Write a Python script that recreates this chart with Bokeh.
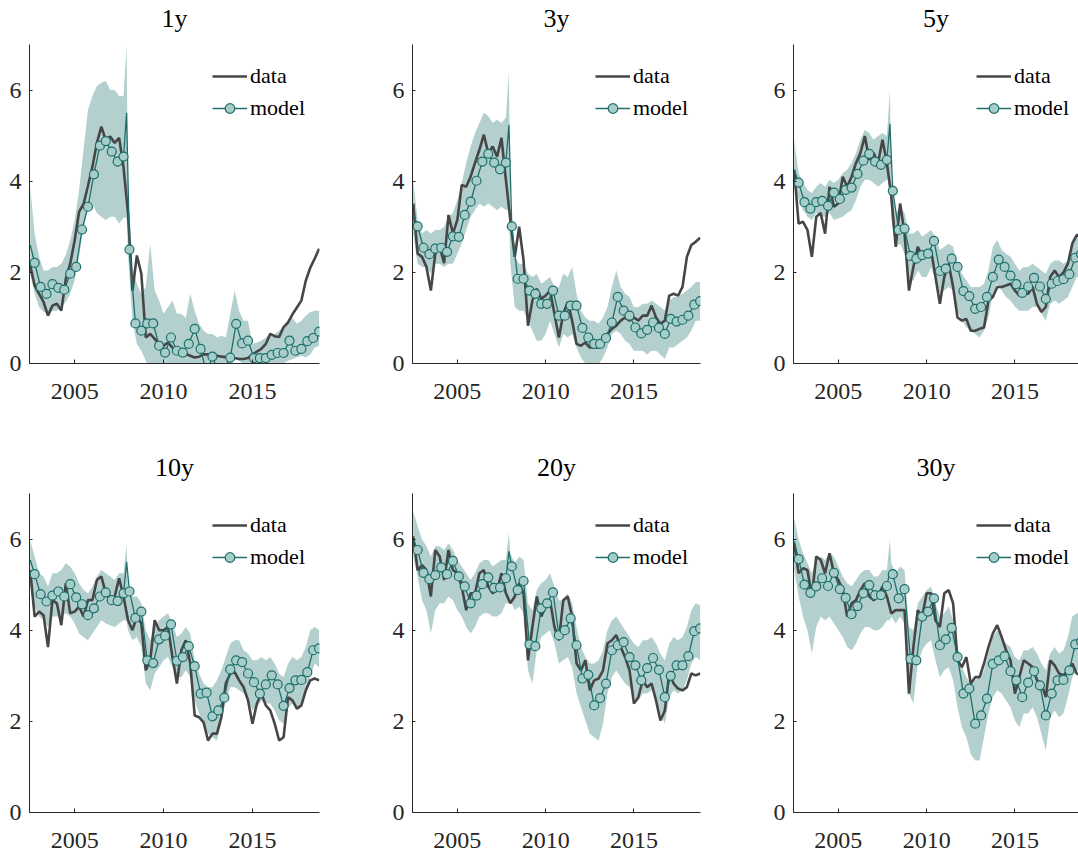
import numpy as np
from bokeh.plotting import figure
from bokeh.layouts import column, row
from bokeh.models import Range1d, FixedTicker, Legend, LegendItem, Title
from bokeh.embed import file_html
from bokeh.resources import INLINE

# ---------------- data ----------------
T_DATA = 2002.5 + 0.25 * np.arange(66)          # quarterly, 2002.5 .. 2018.75
T_MODEL = 2002.75 + np.arange(49) / 3.0         # every 4 months (markers)
T_START = 2002.5                                 # left end of model line
T_SPIKE = 2007.92                                # one-month spike

TITLES = ["1y", "3y", "5y", "10y", "20y", "30y"]
X_TICKS = [2005, 2010, 2015]
Y_TICKS = [0, 2, 4, 6]

DATA_1Y = [2.15, 1.71, 1.53, 1.35, 1.05, 1.27, 1.31, 1.16, 1.85, 2.19,
           2.7, 3.33, 3.5, 3.9, 4.32, 4.84, 5.2, 4.9, 4.98, 4.84, 4.95, 4.3,
           3.3, 1.6, 2.37, 1.97, 0.57, 0.65, 0.54, 0.43, 0.39, 0.46, 0.35, 0.24,
           0.26, 0.21, 0.17, 0.13, 0.15, 0.2, 0.2, 0.19, 0.17, 0.15, 0.14, 0.12,
           0.12, 0.1, 0.1, 0.12, 0.2, 0.26, 0.32, 0.43, 0.65, 0.6, 0.58, 0.8,
           0.9, 1.08, 1.23, 1.38, 1.82, 2.1, 2.3, 2.52]
LOW_1Y = [1.95, 1.53, 1.24, 1.13, 1.09, 1.16, 1.16, 1.24, 1.35, 1.53,
          1.82, 2.34, 3.0, 3.44, 3.5, 3.3, 3.22, 3.15, 3.22, 3.22, 3.07, 3.2,
          2.4, 0.94, 0.43, 0.28, 0.06, -0.1, -0.3, -0.2, -0.3, -0.1, -0.1, -0.2,
          -0.3, -0.2, -0.1, -0.2, -0.3, -0.4, -0.5, -0.4, -0.5, -0.4, -0.4, -0.3,
          0.2, 0.05, 0.0, -0.05, -0.2, -0.2, -0.2, -0.2, -0.1, -0.1, -0.05, 0.0,
          0.06, 0.1, 0.13, 0.17, 0.13, 0.2, 0.35, 0.39]
UP_1Y = [3.88, 2.85, 2.34, 2.04, 2.04, 2.12, 2.12, 2.19, 2.38, 2.7,
         3.15, 3.8, 4.7, 5.57, 5.87, 6.09, 6.16, 6.2, 6.0, 6.0, 5.87, 5.87,
         3.88, 2.12, 1.75, 1.53, 1.68, 2.63, 1.6, 1.38, 1.09, 1.24, 1.38, 1.09,
         1.09, 1.0, 1.53, 1.16, 0.87, 0.72, 0.65, 0.65, 0.57, 0.61, 0.57, 1.09,
         1.6, 1.16, 0.94, 0.94, 0.43, 0.46, 0.5, 0.57, 0.65, 0.65, 0.72, 0.8,
         0.94, 1.0, 0.87, 0.94, 1.05, 1.13, 1.16, 1.16]
MODEL_1Y = [2.21, 1.68, 1.53, 1.74, 1.66, 1.62, 1.97, 2.12, 2.94, 3.44,
            4.15, 4.78, 4.88, 4.65, 4.43, 4.54, 2.5, 0.88, 0.72, 0.88,
            0.88, 0.39, 0.24, 0.57, 0.28, 0.24, 0.43, 0.76, 0.32, -0.2,
            0.15, -0.2, -0.1, 0.13, 0.87, 0.44, 0.5, 0.12, 0.12, 0.12,
            0.19, 0.23, 0.23, 0.5, 0.28, 0.32, 0.49, 0.56, 0.7]

DATA_3Y = [3.51, 2.41, 2.34, 2.12, 1.6, 2.41, 2.56, 2.2, 3.26, 2.85,
           3.15, 3.92, 3.88, 4.1, 4.4, 4.69, 5.02, 4.62, 4.76, 4.54, 4.95, 4.03,
           3.15, 2.34, 3.0, 2.26, 0.83, 1.38, 1.64, 1.42, 1.49, 1.6, 1.09, 0.57,
           1.09, 1.35, 0.94, 0.43, 0.39, 0.46, 0.35, 0.35, 0.35, 0.43, 0.65, 0.76,
           0.83, 0.94, 1.01, 0.94, 1.01, 0.94, 1.05, 1.05, 1.27, 1.01, 0.87, 0.94,
           1.49, 1.53, 1.49, 1.68, 2.34, 2.6, 2.67, 2.76]
LOW_3Y = [2.85, 2.19, 2.12, 2.12, 1.97, 2.19, 2.19, 2.12, 2.19, 2.19,
          2.41, 2.63, 2.93, 3.22, 3.37, 3.51, 3.44, 3.51, 3.44, 3.37, 3.44, 3.37,
          2.19, 1.24, 1.16, 1.16, 0.94, 0.72, 0.5, 0.5, 0.65, 0.94, 0.65, 0.35,
          0.65, 0.57, 0.65, 0.35, 0.13, 0.0, -0.02, 0.02, -0.02, 0.13, 0.35, 0.65,
          0.72, 0.65, 0.5, 0.43, 0.28, 0.28, 0.28, 0.2, 0.28, 0.28, 0.2, 0.1,
          0.35, 0.35, 0.43, 0.5, 0.57, 0.72, 0.94, 0.94]
UP_3Y = [4.03, 3.15, 2.85, 2.93, 2.85, 2.93, 2.93, 3.0, 3.22, 3.3,
         3.59, 3.96, 4.4, 4.76, 5.06, 5.28, 5.5, 5.43, 5.28, 5.35, 5.28, 5.4,
         3.44, 2.34, 2.19, 2.19, 1.97, 1.9, 1.97, 1.75, 1.82, 1.9, 1.68, 1.68,
         1.97, 1.9, 2.12, 1.53, 1.16, 1.01, 0.94, 0.94, 0.87, 1.01, 1.24, 1.68,
         2.04, 1.68, 1.53, 1.46, 1.24, 1.24, 1.31, 1.31, 1.38, 1.31, 1.24, 1.16,
         1.38, 1.46, 1.46, 1.53, 1.6, 1.68, 1.79, 1.79]
MODEL_3Y = [3.01, 2.54, 2.4, 2.52, 2.54, 2.45, 2.79, 2.78, 3.26, 3.55,
            4.01, 4.43, 4.6, 4.41, 4.26, 4.41, 3.01, 1.86, 1.86, 1.6,
            1.53, 1.31, 1.31, 1.6, 1.05, 1.05, 1.27, 1.27, 0.78, 0.57,
            0.43, 0.43, 0.56, 0.9, 1.46, 1.16, 1.05, 0.79, 0.66, 0.74,
            0.9, 0.78, 0.65, 0.98, 0.92, 0.96, 1.05, 1.29, 1.37]

DATA_5Y = [4.25, 3.07, 3.11, 2.93, 2.34, 3.22, 3.3, 2.85, 3.88, 3.44,
           3.51, 4.1, 3.88, 4.1, 4.4, 4.62, 4.99, 4.47, 4.62, 4.4, 4.91, 4.4,
           3.66, 2.56, 3.51, 2.85, 1.6, 2.12, 2.56, 2.34, 2.41, 2.49, 1.9, 1.31,
           1.9, 2.19, 1.68, 1.01, 0.94, 0.98, 0.72, 0.72, 0.76, 0.79, 1.38, 1.46,
           1.68, 1.68, 1.71, 1.75, 1.6, 1.49, 1.53, 1.53, 1.68, 1.31, 1.13, 1.24,
           1.9, 2.04, 1.9, 2.0, 2.19, 2.63, 2.82, 2.78]
LOW_5Y = [3.88, 3.59, 3.37, 3.22, 3.15, 3.3, 3.22, 3.22, 3.3, 3.15,
          3.18, 3.22, 3.3, 3.37, 3.59, 3.88, 4.03, 4.03, 3.96, 3.88, 3.96, 4.03,
          3.15, 2.56, 2.63, 2.41, 1.82, 1.82, 2.04, 1.9, 1.9, 2.12, 1.82, 1.53,
          1.6, 1.68, 1.6, 1.16, 0.94, 0.79, 0.72, 0.65, 0.57, 0.72, 1.01, 1.53,
          1.75, 1.6, 1.46, 1.38, 1.24, 1.16, 1.16, 1.16, 1.24, 1.24, 1.09, 0.94,
          1.31, 1.38, 1.31, 1.38, 1.46, 1.68, 1.9, 1.9]
UP_5Y = [4.91, 4.18, 3.96, 3.81, 3.74, 3.88, 3.96, 3.88, 4.03, 3.96,
         4.03, 4.18, 4.25, 4.4, 4.62, 4.91, 5.13, 5.06, 4.91, 4.99, 5.06, 4.99,
         4.03, 3.3, 3.44, 3.3, 2.85, 2.85, 2.93, 2.78, 2.85, 2.93, 2.78, 2.49,
         2.56, 2.63, 2.56, 2.19, 1.97, 1.82, 1.68, 1.68, 1.68, 1.75, 2.04, 2.56,
         2.71, 2.49, 2.41, 2.34, 2.19, 2.04, 2.12, 2.12, 2.19, 2.12, 2.04, 1.97,
         2.19, 2.26, 2.26, 2.19, 2.26, 2.71, 2.85, 2.85]
MODEL_5Y = [3.97, 3.54, 3.4, 3.54, 3.57, 3.46, 3.75, 3.61, 3.81, 3.86,
            4.16, 4.45, 4.6, 4.43, 4.36, 4.47, 3.79, 2.93, 2.96, 2.36,
            2.3, 2.38, 2.41, 2.69, 2.03, 2.08, 2.3, 2.12, 1.59, 1.48,
            1.2, 1.24, 1.46, 1.9, 2.28, 2.12, 1.93, 1.74, 1.55, 1.69,
            1.88, 1.69, 1.42, 1.75, 1.81, 1.85, 1.96, 2.32, 2.4]

DATA_10Y = [5.32, 4.3, 4.41, 4.33, 3.63, 4.66, 4.59, 4.11, 5.03, 4.37,
            4.41, 4.52, 4.3, 4.66, 4.66, 5.1, 5.18, 4.81, 4.66, 4.74, 5.14, 4.74,
            4.22, 4.0, 4.3, 4.15, 3.12, 3.34, 4.22, 4.0, 4.0, 4.07, 3.41, 2.83,
            3.56, 3.78, 3.27, 2.13, 2.09, 1.98, 1.58, 1.73, 1.73, 2.09, 2.83, 3.05,
            3.08, 2.9, 2.75, 2.46, 1.95, 2.39, 2.61, 2.35, 2.24, 1.95, 1.58, 1.65,
            2.53, 2.46, 2.28, 2.35, 2.68, 2.9, 2.94, 2.9]
LOW_10Y = [4.96, 4.52, 4.3, 4.22, 4.07, 4.3, 4.3, 4.3, 4.37, 4.3,
           4.15, 3.93, 3.85, 3.78, 3.93, 4.07, 4.22, 4.15, 4.11, 4.07, 4.15, 4.22,
           4.0, 3.78, 3.85, 3.63, 2.83, 2.68, 3.05, 3.19, 3.34, 3.41, 3.19, 2.97,
           2.97, 3.12, 2.97, 2.46, 2.17, 1.95, 1.73, 1.65, 1.58, 1.95, 2.46, 2.75,
           2.75, 2.68, 2.61, 2.46, 2.24, 2.31, 2.46, 2.39, 2.39, 2.24, 2.02, 1.95,
           2.31, 2.39, 2.31, 2.39, 2.61, 2.97, 3.27, 3.19]
UP_10Y = [5.98, 5.62, 5.25, 5.18, 4.96, 5.25, 5.25, 5.32, 5.47, 5.4,
          5.25, 5.03, 4.88, 4.81, 4.96, 5.18, 5.32, 5.25, 5.18, 5.1, 5.25, 5.25,
          4.88, 4.74, 4.74, 4.59, 4.0, 3.78, 4.07, 4.22, 4.3, 4.37, 4.15, 3.85,
          3.93, 4.07, 3.93, 3.34, 3.05, 2.83, 2.75, 2.75, 2.9, 3.12, 3.41, 3.71,
          3.78, 3.78, 3.56, 3.49, 3.34, 3.34, 3.41, 3.34, 3.41, 3.27, 3.05, 2.97,
          3.27, 3.41, 3.34, 3.41, 3.63, 4.0, 4.07, 4.0]
MODEL_10Y = [5.23, 4.79, 4.63, 4.76, 4.85, 4.74, 5.01, 4.72, 4.57, 4.33,
             4.48, 4.74, 4.83, 4.66, 4.64, 4.81, 4.85, 4.27, 4.41, 3.34,
             3.28, 3.8, 3.88, 4.13, 3.33, 3.41, 3.65, 3.21, 2.61, 2.63,
             2.11, 2.24, 2.52, 3.14, 3.34, 3.3, 3.05, 2.86, 2.61, 2.81,
             3.01, 2.81, 2.34, 2.73, 2.9, 2.91, 3.08, 3.56, 3.6]

DATA_20Y = [6.06, 5.32, 5.43, 5.32, 4.74, 5.76, 5.62, 5.1, 5.76, 5.32,
            5.25, 4.96, 4.44, 4.81, 4.81, 5.25, 5.32, 4.96, 4.81, 4.88, 5.25, 4.81,
            4.59, 4.74, 5.03, 4.81, 3.34, 4.07, 4.74, 4.3, 4.52, 4.66, 4.07, 3.78,
            4.66, 4.74, 4.3, 3.27, 3.12, 3.34, 2.68, 2.9, 2.94, 3.12, 3.71, 3.78,
            3.89, 3.63, 3.41, 3.12, 2.39, 2.53, 2.9, 2.75, 2.83, 2.46, 2.02, 2.24,
            3.05, 2.83, 2.72, 2.68, 2.75, 3.05, 3.01, 3.05]
LOW_20Y = [5.62, 5.18, 4.66, 4.44, 3.93, 4.44, 4.59, 4.59, 4.74, 4.66,
           4.44, 4.3, 4.07, 3.93, 4.07, 4.3, 4.37, 4.37, 4.3, 4.3, 4.37, 4.59,
           4.66, 4.44, 4.52, 4.37, 3.12, 2.83, 3.56, 3.85, 3.93, 4.0, 3.71, 3.27,
           3.34, 3.41, 3.19, 2.61, 2.31, 2.02, 1.73, 1.65, 1.58, 1.95, 2.61, 2.97,
           3.12, 2.97, 2.83, 2.75, 2.53, 2.46, 2.61, 2.61, 2.68, 2.53, 2.17, 1.95,
           2.53, 2.68, 2.61, 2.68, 2.9, 3.27, 3.41, 3.34]
UP_20Y = [6.61, 6.28, 5.99, 5.84, 5.62, 5.84, 5.84, 5.76, 5.91, 5.76,
          5.54, 5.4, 5.25, 5.1, 5.25, 5.47, 5.54, 5.54, 5.4, 5.47, 5.54, 5.54,
          5.69, 5.47, 5.62, 5.54, 4.59, 4.44, 4.88, 5.03, 5.1, 5.25, 4.96, 4.66,
          4.66, 4.81, 4.59, 4.07, 3.63, 3.41, 3.27, 3.27, 3.34, 3.56, 4.0, 4.22,
          4.3, 4.15, 4.0, 3.85, 3.71, 3.63, 3.78, 3.78, 3.85, 3.71, 3.49, 3.34,
          3.71, 3.85, 3.78, 3.85, 4.07, 4.44, 4.59, 4.55]
MODEL_20Y = [5.76, 5.26, 5.12, 5.21, 5.38, 5.23, 5.52, 5.18, 4.96, 4.59,
             4.76, 5.01, 5.16, 4.93, 4.94, 5.14, 5.4, 4.88, 5.08, 3.69,
             3.65, 4.48, 4.59, 4.83, 3.89, 4.0, 4.26, 3.67, 2.94, 3.02,
             2.35, 2.51, 2.83, 3.56, 3.67, 3.74, 3.41, 3.23, 2.9, 3.17,
             3.39, 3.13, 2.53, 3.0, 3.23, 3.23, 3.43, 3.98, 4.04]

DATA_30Y = [5.91, 5.25, 5.36, 5.32, 4.74, 5.62, 5.54, 5.25, 5.69, 5.25,
            5.1, 4.88, 4.3, 4.59, 4.66, 4.88, 5.03, 4.74, 4.66, 4.74, 4.96, 4.74,
            4.37, 4.44, 4.44, 4.44, 2.61, 3.63, 4.44, 4.3, 4.81, 4.81, 4.22, 4.07,
            4.81, 4.88, 4.59, 3.34, 3.19, 3.41, 2.83, 2.97, 2.97, 3.27, 3.63, 3.93,
            4.11, 3.85, 3.56, 3.34, 2.61, 2.97, 3.34, 3.27, 3.19, 2.9, 2.83, 2.53,
            3.34, 3.23, 3.05, 3.01, 3.12, 3.27, 3.05, 3.01]
LOW_30Y = [5.32, 4.74, 4.3, 4.0, 3.49, 4.07, 4.3, 4.22, 4.3, 4.15,
           4.0, 3.85, 3.63, 3.56, 3.71, 3.93, 4.07, 4.07, 4.0, 4.0, 4.07, 4.22,
           4.3, 4.15, 4.3, 4.15, 2.61, 2.39, 3.27, 3.56, 3.71, 3.78, 3.34, 2.97,
           3.12, 3.19, 2.9, 2.31, 1.87, 1.65, 1.28, 1.14, 1.14, 1.65, 2.17, 2.53,
           2.68, 2.61, 2.46, 2.31, 2.02, 1.87, 2.17, 2.17, 2.31, 2.09, 1.73, 1.36,
           2.09, 2.24, 2.09, 2.17, 2.53, 2.97, 3.12, 3.1]
UP_30Y = [6.46, 5.99, 5.69, 5.47, 5.25, 5.54, 5.62, 5.54, 5.69, 5.62,
          5.4, 5.18, 5.03, 4.96, 5.1, 5.25, 5.32, 5.32, 5.18, 5.18, 5.32, 5.32,
          5.47, 5.25, 5.4, 5.32, 4.07, 4.0, 4.59, 4.74, 4.88, 4.96, 4.59, 4.3,
          4.37, 4.52, 4.22, 3.63, 3.19, 2.97, 2.83, 2.9, 2.97, 3.12, 3.49, 3.85,
          4.0, 3.85, 3.71, 3.63, 3.41, 3.34, 3.56, 3.56, 3.63, 3.49, 3.27, 3.12,
          3.49, 3.63, 3.49, 3.56, 3.85, 4.3, 4.37, 4.35]
MODEL_30Y = [5.56, 5.0, 4.82, 4.96, 5.14, 4.97, 5.26, 4.9, 4.71, 4.35,
             4.53, 4.81, 4.99, 4.77, 4.77, 4.97, 5.23, 4.7, 4.9, 3.37,
             3.34, 4.3, 4.41, 4.7, 3.67, 3.8, 4.05, 3.41, 2.61, 2.72,
             1.95, 2.13, 2.5, 3.26, 3.34, 3.43, 3.1, 2.9, 2.53, 2.85,
             3.1, 2.79, 2.13, 2.61, 2.9, 2.91, 3.12, 3.69, 3.75]

# model value at the left edge, model spike, band spike (upper)
MODEL_START = [2.6, 3.3, 4.25, 5.54, 6.0, 5.95]
MODEL_SPIKE = [5.5, 5.24, 5.26, 5.5, 5.73, 5.3]
BAND_SPIKE = [7.0, 6.4, 6.0, 5.9, 6.15, 6.0]

DATA = [DATA_1Y, DATA_3Y, DATA_5Y, DATA_10Y, DATA_20Y, DATA_30Y]
LOW = [LOW_1Y, LOW_3Y, LOW_5Y, LOW_10Y, LOW_20Y, LOW_30Y]
UP = [UP_1Y, UP_3Y, UP_5Y, UP_10Y, UP_20Y, UP_30Y]
MODEL = [MODEL_1Y, MODEL_3Y, MODEL_5Y, MODEL_10Y, MODEL_20Y, MODEL_30Y]

# ---------------- style ----------------
FONT = "Liberation Serif"
C_DATA = "#464646"
C_MODEL = "#1d6f6c"
C_MARK = "#a6cdc9"
C_BAND = "#b3d0ce"
C_AXIS = "#262626"

X0 = 2002.46
PX_PER_YEAR = 290 / (2018.77 - 2002.46)
FRAME_H = 319


def panel(i, width, border_left, border_right, height, border_top, border_bottom):
    frame_w = width - border_left - border_right
    x1 = X0 + frame_w / PX_PER_YEAR
    p = figure(width=width, height=height, output_backend="svg", title=None,
               toolbar_location=None, x_range=Range1d(X0, x1),
               y_range=Range1d(0, 7),
               min_border_left=border_left, min_border_right=border_right,
               min_border_top=border_top, min_border_bottom=border_bottom)
    p.outline_line_color = None
    p.xgrid.visible = False
    p.ygrid.visible = False
    p.background_fill_color = "white"
    p.border_fill_color = "white"

    # a tiny blank spacer next to the frame, then the panel title above it
    p.add_layout(Title(text=" ", text_font_size="2px", standoff=8), "above")
    p.add_layout(Title(text=TITLES[i], align="center", text_font=FONT,
                       text_font_size="26px", text_font_style="normal",
                       text_color="black", standoff=0), "above")

    for ax, ticks in ((p.xaxis[0], X_TICKS), (p.yaxis[0], Y_TICKS)):
        ax.ticker = FixedTicker(ticks=ticks)
        ax.major_label_text_font = FONT
        ax.major_label_text_font_size = "24px"
        ax.major_label_text_color = C_AXIS
        ax.axis_line_color = C_AXIS
        ax.major_tick_line_color = C_AXIS
        ax.major_tick_out = 0
        ax.minor_tick_line_color = None
    p.xaxis[0].major_tick_in = 4
    p.yaxis[0].major_tick_in = 3
    p.xaxis[0].major_label_standoff = 20
    p.yaxis[0].major_label_standoff = 8

    # band with a one-month spike
    bx = list(T_DATA[:22]) + [T_SPIKE] + list(T_DATA[22:])
    blo = LOW[i][:22] + [LOW[i][21]] + LOW[i][22:]
    bup = UP[i][:22] + [BAND_SPIKE[i]] + UP[i][22:]
    p.varea(x=bx, y1=blo, y2=bup, fill_color=C_BAND, fill_alpha=1.0)

    r_data = p.line(T_DATA, DATA[i], line_color=C_DATA, line_width=2.6)

    mx = [T_START] + list(T_MODEL[:16]) + [T_SPIKE] + list(T_MODEL[16:])
    my = [MODEL_START[i]] + MODEL[i][:16] + [MODEL_SPIKE[i]] + MODEL[i][16:]
    r_mline = p.line(mx, my, line_color=C_MODEL, line_width=1.3)
    r_mark = p.scatter(T_MODEL, MODEL[i], marker="circle", size=9,
                       fill_color=C_MARK, line_color=C_MODEL, line_width=1.2)

    leg = Legend(items=[LegendItem(label="data", renderers=[r_data]),
                        LegendItem(label="model", renderers=[r_mline, r_mark])],
                 location=(183, FRAME_H - 23 - 54))
    leg.border_line_color = None
    leg.background_fill_alpha = 0
    leg.label_text_font = FONT
    leg.label_text_font_size = "22px"
    leg.label_text_color = "black"
    leg.glyph_width = 35
    leg.glyph_height = 24
    leg.label_height = 24
    leg.label_standoff = 3
    leg.spacing = 6
    leg.padding = 0
    leg.margin = 0
    p.add_layout(leg)
    return p


WIDTHS = [389, 381, 308]
LEFTS = [29, 21, 21]
RIGHTS = [70, 70, 0]
H_TOP = 446
H_BOT = 859 - H_TOP
top = [panel(j, WIDTHS[j], LEFTS[j], RIGHTS[j], H_TOP, 44, H_TOP - 44 - FRAME_H)
       for j in range(3)]
bt = 493 - H_TOP
bot = [panel(3 + j, WIDTHS[j], LEFTS[j], RIGHTS[j], H_BOT, bt, H_BOT - bt - FRAME_H)
       for j in range(3)]

layout = column(row(*top), row(*bot))
open("out.html", "w").write(file_html(layout, INLINE))
